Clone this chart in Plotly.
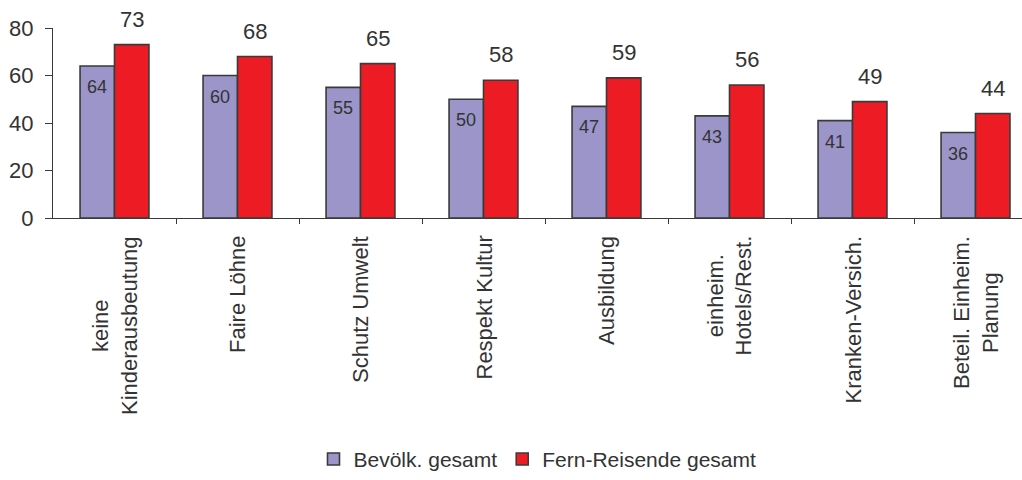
import plotly.graph_objects as go

categories = [
    "keine<br>Kinderausbeutung",
    "Faire Löhne",
    "Schutz Umwelt",
    "Respekt Kultur",
    "Ausbildung",
    "einheim.<br>Hotels/Rest.",
    "Kranken-Versich.",
    "Beteil. Einheim.<br>Planung",
]
bevoelkerung = [64, 60, 55, 50, 47, 43, 41, 36]
fernreisende = [73, 68, 65, 58, 59, 56, 49, 44]

series_names = ["Bevölk. gesamt", "Fern-Reisende gesamt"]
colors = ["#9B95C9", "#ED1C24"]

FONT = "Liberation Sans, Arial, Helvetica, sans-serif"
TEXT = "#333333"
EDGE = "#3a3a3a"

x_idx = list(range(len(categories)))

fig = go.Figure()
for name, vals, col in zip(series_names, [bevoelkerung, fernreisende], colors):
    fig.add_trace(go.Bar(
        x=x_idx, y=vals, name=name,
        marker=dict(color=col, line=dict(color=EDGE, width=1.6)),
    ))

annotations = []
bar_off = 0.14
for i, (a, b) in enumerate(zip(bevoelkerung, fernreisende)):
    annotations.append(dict(
        x=i - bar_off, y=a, xref="x", yref="y", text=str(a), showarrow=False,
        yanchor="top", yshift=-9, font=dict(size=18, color=TEXT, family=FONT),
    ))
    annotations.append(dict(
        x=i + bar_off, y=b, xref="x", yref="y", text=str(b), showarrow=False,
        yanchor="bottom", yshift=11, font=dict(size=22, color=TEXT, family=FONT),
    ))
for i, cat in enumerate(categories):
    annotations.append(dict(
        x=i, y=0, xref="x", yref="paper", text=cat, showarrow=False,
        textangle=-90, align="center", xanchor="center", yanchor="top",
        yshift=-16, font=dict(size=22, color=TEXT, family=FONT),
    ))

fig.update_layout(
    width=1022, height=480,
    margin=dict(l=53, r=0, t=28, b=260),
    paper_bgcolor="white", plot_bgcolor="white",
    barmode="group", bargap=0.44, bargroupgap=0,
    font=dict(family=FONT, color=TEXT, size=21),
    showlegend=True,
    legend=dict(
        orientation="h", x=0.5, xanchor="center", xref="paper",
        y=-1.27, yanchor="middle",
        font=dict(size=21, color=TEXT, family=FONT),
        itemwidth=30, tracegroupgap=0,
    ),
    annotations=annotations,
)
fig.update_xaxes(
    type="linear", range=[-0.5, 7.378],
    showticklabels=False, showgrid=False, zeroline=False,
    tickmode="array", tickvals=[i + 0.5 for i in range(len(categories))],
    ticks="outside", ticklen=5, tickcolor=EDGE, tickwidth=1,
    showline=True, linecolor=EDGE, linewidth=1,
)
fig.update_yaxes(
    range=[0, 80], tickmode="array", tickvals=[0, 20, 40, 60, 80],
    showgrid=False, zeroline=False,
    ticks="outside", ticklen=7, tickcolor=EDGE, tickwidth=1,
    showline=True, linecolor=EDGE, linewidth=1,
    tickfont=dict(size=22, color=TEXT, family=FONT),
    ticklabelstandoff=7,
)

fig.write_html("out.html")
